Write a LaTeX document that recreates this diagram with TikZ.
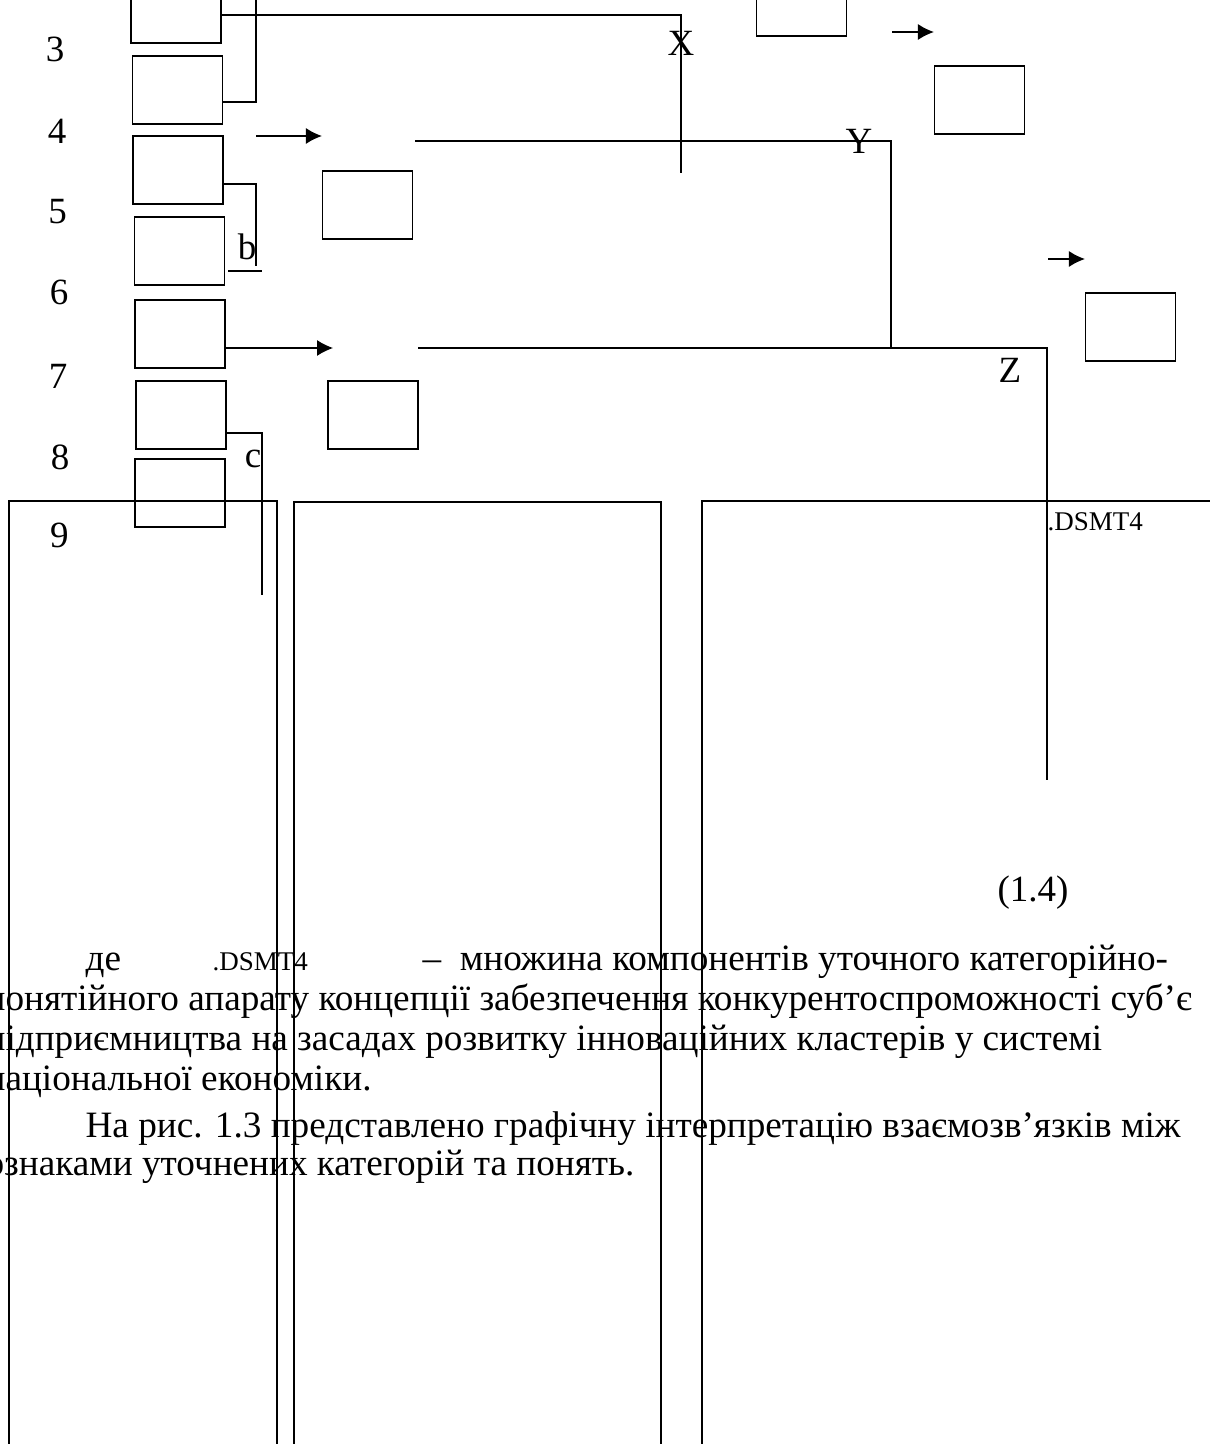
\documentclass[tikz,border=0pt]{standalone}
\usepackage{fontspec}
\setmainfont{Liberation Serif}
\usetikzlibrary{arrows.meta}
\tikzset{
  cell/.style={draw, line width=0.6pt, minimum width=45pt, minimum height=34pt, inner sep=0pt},
  lbl/.style={font=\fontsize{18.5}{20}\selectfont, inner sep=0pt},
  txt/.style={font=\fontsize{18.6}{20}\selectfont, inner sep=0pt, anchor=base west},
  tag/.style={font=\fontsize{13.5}{14}\selectfont, inner sep=0pt, anchor=base west},
}
\begin{document}
\begin{tikzpicture}[x=0.5pt, y=-0.5pt, line width=0.6pt, >={Latex[length=8pt,width=8pt]}]
      \useasboundingbox (0,0) rectangle (1209,1444);
      % row numbers
      \node [lbl] (n3) at (55,49.5) {3};
      \node [lbl] (n4) at (57,131) {4};
      \node [lbl] (n5) at (57.5,212) {5};
      \node [lbl] (n6) at (59,292) {6};
      \node [lbl] (n7) at (58,376) {7};
      \node [lbl] (n8) at (60,457) {8};
      \node [lbl] (n9) at (59.5,535) {9};
      % left column
      \node [cell] (b1) at (176,9) {};
      \node [cell] (b2) at (177.5,90) {};
      \node [cell] (b3) at (178,170) {};
      \node [cell] (b4) at (179.5,251) {};
      \node [cell] (b5) at (180,334) {};
      \node [cell] (b6) at (181,415) {};
      \node [cell] (b7) at (180,493) {};
      % middle and right
      \node [cell] (m1) at (367.5,205) {};
      \node [cell] (m2) at (373,415) {};
      \node [cell] (r0) at (801.5,2) {};
      \node [cell] (r1) at (979.5,100) {};
      \node [cell] (r2) at (1130.5,327) {};
      % bend points
      \coordinate (xa) at (681,15);
      \coordinate (xb) at (681,173);
      \coordinate (ja) at (256,102);
      \coordinate (jb) at (256,-5);
      \coordinate (ka) at (256,184);
      \coordinate (kb) at (256,266);
      \coordinate (la) at (262,433);
      \coordinate (lb) at (262,595);
      \coordinate (ya) at (415,141);
      \coordinate (yb) at (891,141);
      \coordinate (yc) at (891,348);
      \coordinate (za) at (418,348);
      \coordinate (zb) at (1047,348);
      \coordinate (zc) at (1047,780);
      \coordinate (p1) at (256,136);
      \coordinate (p2) at (892,32);
      \coordinate (p3) at (1048,259);
      \draw (b1.east |- xa) -- (xa) -- (xb);
      \draw (b2.east |- ja) -- (ja) -- (jb);
      \draw (b3.east |- ka) -- (ka) -- (kb);
      \draw (228,271) -- (262,271);
      \draw (b6.east |- la) -- (la) -- (lb);
      \draw [->] (p1) -- (m1.north west |- p1);
      \draw [->] (b5.east |- yc) -- (333,348);
      \draw [->] (p2) -- (r1.north west |- p2);
      \draw [->] (p3) -- (r2.north west |- p3);
      \draw (ya) -- (yb) -- (yc);
      \draw (za) -- (zb) -- (zc);
      \node [lbl] (x) at (681,43) {X};
      \node [lbl] (y) at (859,141) {Y};
      \node [lbl] (z) at (1010,370) {Z};
      \node [lbl] (b) at (247,247) {b};
      \node [lbl] (c) at (253,459) {c};
      % frames
      \draw (9,1460) |- (277,501) -- (277,1460);
      \draw (294,1460) |- (661,502) -- (661,1460);
      \draw (702,1460) |- (1220,501);
      \node [tag] (d1) at (1047,530) {.DSMT4};
      \node [lbl] (eq) at (1033,893) {(1.4)};
      % text
      \node [txt] (t0) at (85,970) {де};
      \node [tag] (d2) at (212,970) {.DSMT4};
      \node [txt] (t1) at (422,970) {–\ \ множина компонентів уточного категорійно-};
      \node [txt] (t2) at (-15,1010) {понятійного апарату концепції забезпечення конкурентоспроможності суб’є};
      \node [txt] (t3) at (-15,1050) {підприємництва на засадах розвитку інноваційних кластерів у системі};
      \node [txt] (t4) at (-15,1090) {національної економіки.};
      \node [txt] (t5) at (85,1137) {На рис. 1.3 представлено графічну інтерпретацію взаємозв’язків між};
      \node [txt] (t6) at (-15,1175) {ознаками уточнених категорій та понять.};
    \end{tikzpicture}
\end{document}
